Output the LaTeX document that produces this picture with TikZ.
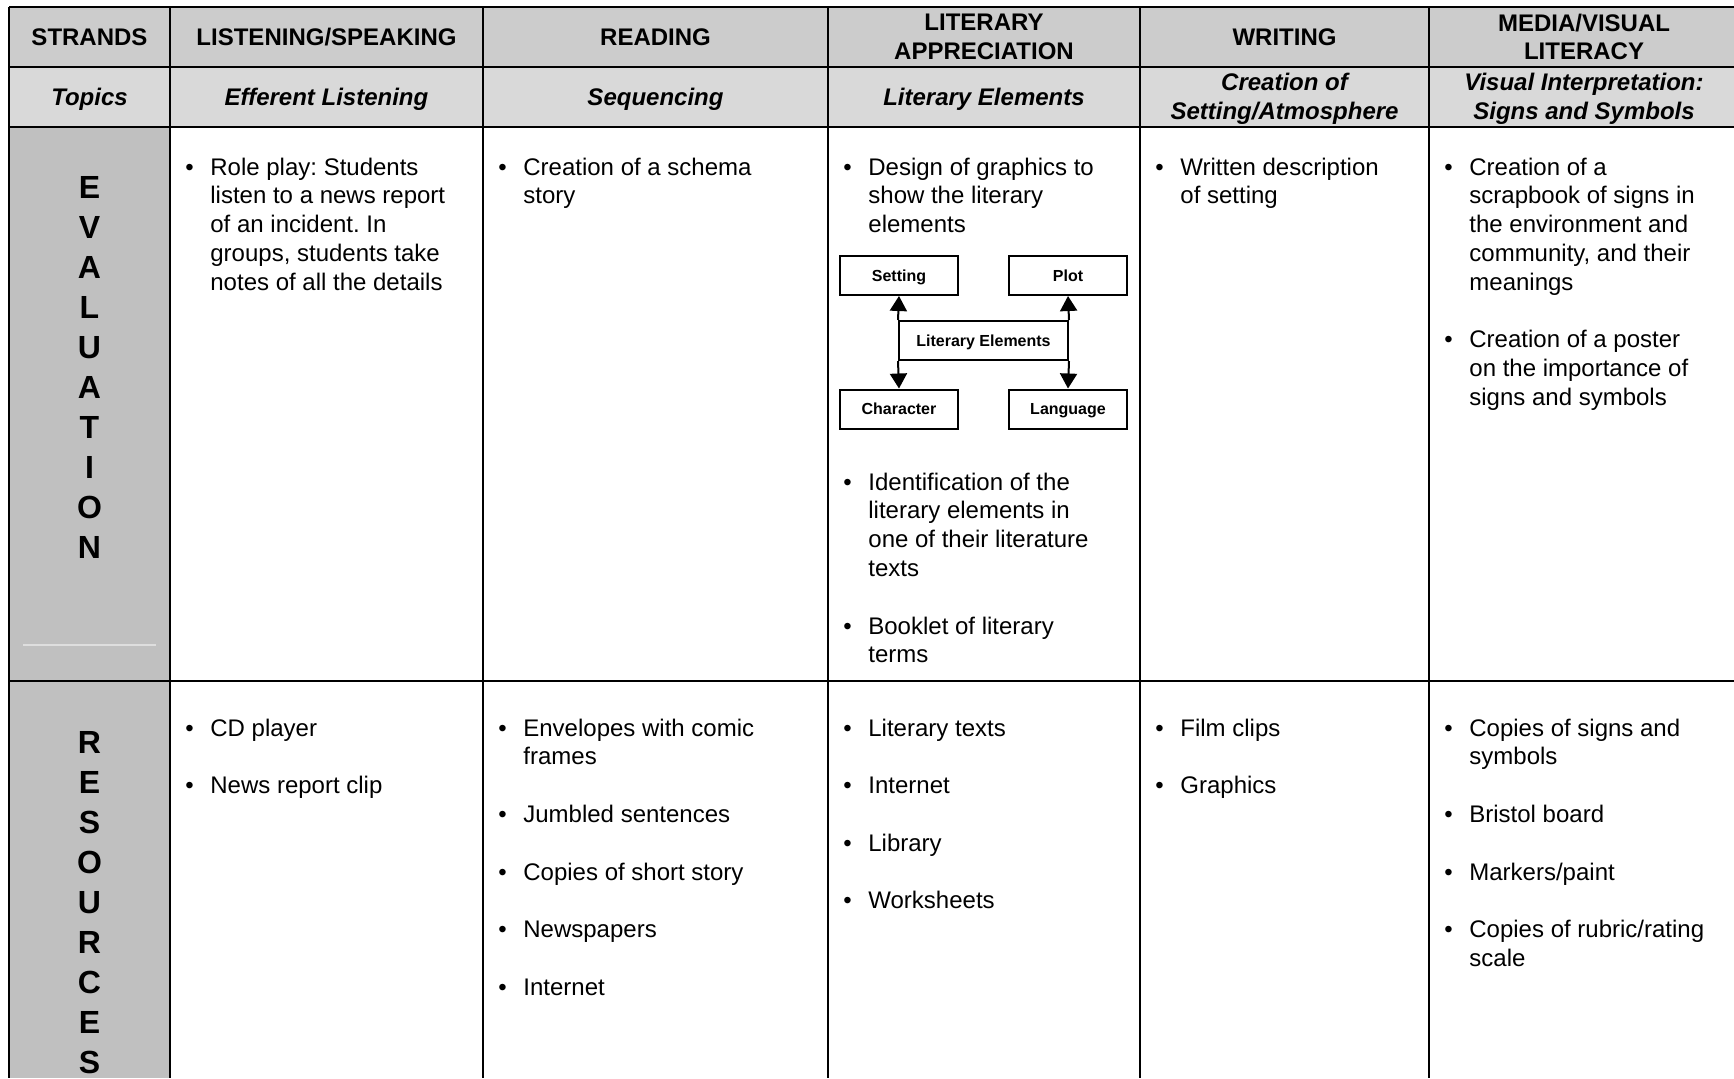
\documentclass[tikz,border=0pt]{standalone}
\usepackage{fontspec}
\setmainfont{Liberation Sans}
\usetikzlibrary{arrows.meta,positioning}
\definecolor{hdrgray}{RGB}{204,204,204}
\definecolor{topgray}{RGB}{217,217,217}
\definecolor{colgray}{RGB}{192,192,192}
\definecolor{faint}{RGB}{222,222,222}
\newenvironment{blist}{\begin{tabular}[t]{@{}p{12.5pt}@{}l@{}}}{\end{tabular}}
\frenchspacing

\begin{document}
\begin{tikzpicture}[x=0.5pt,y=0.5pt,yscale=-1,xscale=1,
  hdr/.style={anchor=center,inner sep=0pt,align=center,font=\fontsize{12}{14.4}\selectfont\bfseries},
  topic/.style={hdr,font=\fontsize{12}{14.4}\selectfont\bfseries\itshape},
  vlbl/.style={anchor=north,inner sep=0pt,align=center,font=\fontsize{16}{20}\selectfont\bfseries},
  item/.style={anchor=base west,inner sep=0pt,font=\fontsize{12}{14.4}\selectfont},
  elbox/.style={draw,line width=1pt,inner sep=0pt,minimum width=59pt,minimum height=19.5pt,
    text height=5.8pt,text depth=0pt,font=\fontsize{8}{9.6}\selectfont\bfseries},
  elarr/.style={line width=1pt,-{Triangle[length=7.5pt,width=8.5pt]}},
  rule/.style={line width=1.2pt}]
  \useasboundingbox (0,0) rectangle (1734,1078);

  %Shape: Rectangle [header fills]
  \fill [hdrgray] (9,7) rectangle (1734,67);
  \fill [topgray] (9,67) rectangle (1734,127);
  \fill [colgray] (9,127) rectangle (170,1078);
  \draw [faint,line width=0.6pt] (23,645) -- (156,645);

  %Straight Lines [grid]
  \draw [rule] (9,7) -- (1734,7);
  \draw [rule] (9,67) -- (1734,67);
  \draw [rule] (9,127) -- (1734,127);
  \draw [rule] (9,681) -- (1734,681);
  \draw [rule] (9,7) -- (9,1078);
  \draw [rule] (170,7) -- (170,1078);
  \draw [rule] (483,7) -- (483,1078);
  \draw [rule] (828,7) -- (828,1078);
  \draw [rule] (1140,7) -- (1140,1078);
  \draw [rule] (1429,7) -- (1429,1078);

  % Text Node
  \draw (89.5,37) node [hdr] (strands) {STRANDS};
  % Text Node
  \draw (326.5,37) node [hdr] (lsp) {LISTENING/SPEAKING};
  % Text Node
  \draw (655.5,37) node [hdr] (rdg) {READING};
  % Text Node
  \draw (984,37) node [hdr] (litapp) {LITERARY\\APPRECIATION};
  % Text Node
  \draw (1284.5,37) node [hdr] (wrt) {WRITING};
  % Text Node
  \draw (1584,37) node [hdr] (media) {MEDIA/VISUAL\\LITERACY};

  % Text Node
  \draw (89.5,99) node [topic] (topics) {Topics};
  % Text Node
  \draw (326.5,99) node [topic] (lsptop) {Efferent Listening};
  % Text Node
  \draw (655.5,99) node [topic] (rdgtop) {Sequencing};
  % Text Node
  \draw (984,99) node [topic] (littop) {Literary Elements};
  % Text Node
  \draw (1284.5,98.5) node [topic] (wrttop) {Creation of\\Setting/Atmosphere};
  % Text Node
  \draw (1584,98.5) node [topic] (mediatop) {Visual Interpretation:\\Signs and Symbols};

  % Text Node
  \draw (89.5,176.5) node [vlbl] (evlbl) {E\\V\\A\\L\\U\\A\\T\\I\\O\\N};
  % Text Node
  \draw (89.5,731.5) node [vlbl] (reslbl) {R\\E\\S\\O\\U\\R\\C\\E\\S};

  % Text Node
  \draw (185,175) node [item] (lspev) {\begin{blist}
    \textbullet & Role play: Students\\
    & listen to a news report\\
    & of an incident. In\\
    & groups, students take\\
    & notes of all the details
  \end{blist}};
  % Text Node
  \draw (498,175) node [item] (rdgev) {\begin{blist}
    \textbullet & Creation of a schema\\
    & story
  \end{blist}};
  % Text Node
  \draw (843,175) node [item] (litev) {\begin{blist}
    \textbullet & Design of graphics to\\
    & show the literary\\
    & elements
  \end{blist}};
  % Text Node
  \draw (843,490) node [item] (litevb) {\begin{blist}
    \textbullet & Identification of the\\
    & literary elements in\\
    & one of their literature\\
    & texts\\
    & \\
    \textbullet & Booklet of literary\\
    & terms
  \end{blist}};
  % Text Node
  \draw (1155,175) node [item] (wrtev) {\begin{blist}
    \textbullet & Written description\\
    & of setting
  \end{blist}};
  % Text Node
  \draw (1444,175) node [item] (mediaev) {\begin{blist}
    \textbullet & Creation of a\\
    & scrapbook of signs in\\
    & the environment and\\
    & community, and their\\
    & meanings\\
    & \\
    \textbullet & Creation of a poster\\
    & on the importance of\\
    & signs and symbols
  \end{blist}};

  %Shape: Rectangle [literary elements chart]
  \draw (899,275.5) node [elbox] (setting) {Setting};
  \draw (1068,275.5) node [elbox] (plot) {Plot};
  \draw (983.5,340.5) node [elbox,minimum width=84.5pt] (litel) {Literary Elements};
  \draw (899,409) node [elbox] (character) {Character};
  \draw (1068,409) node [elbox] (language) {Language};
  %Straight Lines [arrows]
  \draw [elarr] (litel.north west) -- (setting.south);
  \draw [elarr] (litel.north east) -- (plot.south);
  \draw [elarr] (litel.south west) -- (character.north);
  \draw [elarr] (litel.south east) -- (language.north);

  % Text Node
  \draw (185,736) node [item] (lspres) {\begin{blist}
    \textbullet & CD player\\
    & \\
    \textbullet & News report clip
  \end{blist}};
  % Text Node
  \draw (498,736) node [item] (rdgres) {\begin{blist}
    \textbullet & Envelopes with comic\\
    & frames\\
    & \\
    \textbullet & Jumbled sentences\\
    & \\
    \textbullet & Copies of short story\\
    & \\
    \textbullet & Newspapers\\
    & \\
    \textbullet & Internet
  \end{blist}};
  % Text Node
  \draw (843,736) node [item] (litres) {\begin{blist}
    \textbullet & Literary texts\\
    & \\
    \textbullet & Internet\\
    & \\
    \textbullet & Library\\
    & \\
    \textbullet & Worksheets
  \end{blist}};
  % Text Node
  \draw (1155,736) node [item] (wrtres) {\begin{blist}
    \textbullet & Film clips\\
    & \\
    \textbullet & Graphics
  \end{blist}};
  % Text Node
  \draw (1444,736) node [item] (mediares) {\begin{blist}
    \textbullet & Copies of signs and\\
    & symbols\\
    & \\
    \textbullet & Bristol board\\
    & \\
    \textbullet & Markers/paint\\
    & \\
    \textbullet & Copies of rubric/rating\\
    & scale
  \end{blist}};
\end{tikzpicture}
\end{document}
